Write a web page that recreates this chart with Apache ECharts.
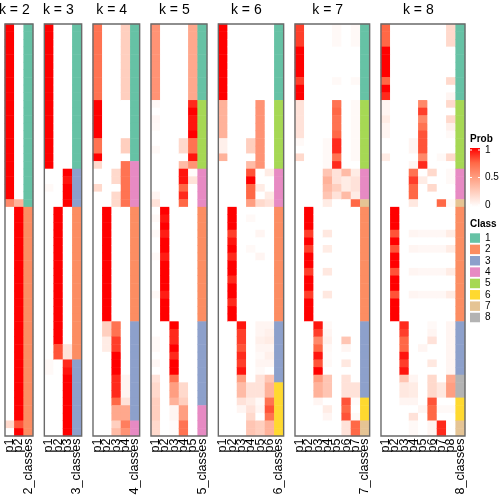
<!DOCTYPE html>
<html><head><meta charset="utf-8">
<script src="https://cdn.jsdelivr.net/npm/echarts@6/dist/echarts.min.js"></script>
<style>html,body{margin:0;padding:0;background:#fff}#c{width:504px;height:504px}</style>
</head><body><div id="c"></div>
<script>
// ---------- DATA ----------
const kValues = [2, 3, 4, 5, 6, 7, 8];
const classLabels = ['1','2','3','4','5','6','7','8'];
const classColors = ['#66C2A5','#FC8D62','#8DA0CB','#E78AC3','#A6D854','#FFD92F','#E5C494','#B3B3B3'];
const probTicks = [1, 0.5, 0];
const probTickLabels = ['1', '0.5', '0'];

const k2Prob = [
 [1,1,1,1,1,1,1,1,1,1, 1,1,1,1,1,1,1,1,1,1, 1,1,1,.6,0,0,0,0,0,0, 0,0,0,0,0,0,0,0,0,0, 0,0,0,0,0,0,0,0,0,0, 0,0,.2,0],
 [0,0,0,0,0,0,0,0,0,0, 0,0,0,0,0,0,0,0,0,0, 0,0,0,.4,1,1,1,1,1,1, 1,1,1,1,1,1,1,1,1,1, 1,1,1,1,1,1,1,1,1,1, 1,1,.8,1]
];
const k2Class = [1,1,1,1,1,1,1,1,1,1, 1,1,1,1,1,1,1,1,1,1, 1,1,1,1,2,2,2,2,2,2, 2,2,2,2,2,2,2,2,2,2, 2,2,2,2,2,2,2,2,2,2, 2,2,2,2];

const k3Prob = [
 [1,1,1,1,1,1,1,1,1,1, 1,1,1,1,1,1,1,1,1,0, 0,.03,0,0,0,0,0,0,0,0, 0,0,0,0,0,0,0,0,0,0, 0,0,0,0,.03,.03,0,0,0,0, 0,0,0,0],
 [0,0,0,0,0,0,0,0,0,0, 0,0,0,0,0,0,0,0,0,0, 0,0,0,0,1,1,1,1,1,1, 1,1,1,1,1,1,1,1,1,1, 1,1,.8,.8,0,0,0,0,0,0, 0,0,0,0],
 [0,0,0,0,0,0,0,0,0,0, 0,0,0,0,0,0,0,0,0,1, .95,1,1,1,0,0,0,0,0,0, 0,0,0,0,0,0,0,0,0,0, 0,0,.15,.15,.9,.95,1,1,1,1, 1,1,1,1]
];
const k3Class = [1,1,1,1,1,1,1,1,1,1, 1,1,1,1,1,1,1,1,1,3, 3,3,3,3,2,2,2,2,2,2, 2,2,2,2,2,2,2,2,2,2, 2,2,2,2,3,3,3,3,3,3, 3,3,3,3];

const k4Prob = [
 [.7,.7,.7,.7,.7,.7,.7,.7,.7,.7, 1,1,1,1,1,.7,.7,1,.2,0, 0,.2,0,0,0,0,0,0,0,0, 0,0,0,0,0,0,0,0,0,0, 0,0,0,0,0,0,0,0,0,0, 0,0,0,0],
 [0,0,0,0,0,0,0,0,0,0, 0,0,0,0,0,0,0,0,0,0, 0,0,0,0,1,1,1,1,1,1, 1,1,1,1,1,1,1,1,1,.25, .25,.1,.1,0,0,0,0,0,0,0, 0,0,0,0],
 [0,0,0,0,0,0,0,0,0,0, 0,0,0,0,0,0,0,0,0,.2, .2,0,.2,.2,0,0,0,0,0,0, 0,0,0,0,0,0,0,0,0,.7, .7,.85,.85,1,1,1,.9,.9,.9,.75, .45,.45,.25,.35],
 [.25,.25,.25,.25,.25,.25,.25,.25,.25,.25, 0,0,0,0,0,.25,.25,0,.7,.7, .7,.7,.7,.7,0,0,0,0,0,0, 0,0,0,0,0,0,0,0,0,0, 0,0,0,0,0,0,.05,.05,.05,.15, .45,.45,.65,.55]
];
const k4Class = [1,1,1,1,1,1,1,1,1,1, 1,1,1,1,1,1,1,1,4,4, 4,4,4,4,2,2,2,2,2,2, 2,2,2,2,2,2,2,2,2,3, 3,3,3,3,3,3,3,3,3,3, 3,3,4,4];

const k5Prob = [
 [.55,.55,.55,.55,.55,.55,.55,.55,.55,.55, .03,0,.04,.03,0,0,.03,0,0,0, 0,0,.05,.15,0,.03,0,.03,0,0, .03,0,0,0,0,.03,0,0,0,0, 0,.03,.03,0,.04,0,.15,.2,.2,.25, .25,.25,.2,.2],
 [0,0,0,0,0,0,0,0,0,0, 0,0,0,0,0,0,0,0,0,0, 0,0,0,0,1,.95,1,.93,1,1, .93,1,1,1,1,.93,1,1,1,0, 0,0,0,0,0,0,0,0,0,0, 0,0,0,0],
 [0,0,0,0,0,0,0,0,0,0, 0,0,0,0,0,0,0,0,0,0, 0,0,0,0,0,0,0,0,0,0, 0,0,0,0,0,0,0,0,0,1, .9,.9,1,.9,1,1,.7,.5,.5,.4, .05,.05,.02,.02],
 [0,0,0,0,0,0,0,0,0,0, 0,0,0,0,0,.2,.2,0,.35,.95, .95,.75,.9,.75,0,0,0,0,0,0, 0,0,0,0,0,0,0,0,0,0, 0,0,0,0,0,0,0,.2,.2,.25, .5,.5,.7,.7],
 [.45,.45,.45,.45,.45,.45,.45,.45,.45,.45, .9,1,.95,.95,1,.7,.7,.95,.55,.02, .15,0,0,0,0,0,0,0,0,0, 0,0,0,0,0,0,0,0,0,0, 0,0,0,0,0,0,0,0,0,0, 0,0,0,0]
];
const k5Class = [1,1,1,1,1,1,1,1,1,1, 5,5,5,5,5,5,5,5,5,4, 4,4,4,4,2,2,2,2,2,2, 2,2,2,2,2,2,2,2,2,3, 3,3,3,3,3,3,3,3,3,3, 4,4,4,4];

const k6Prob = [
 [1,1,1,1,1,1,1,1,1,1, .4,.4,.4,.4,.4,.08,.08,.4,0,0, 0,0,0,0,0,0,0,0,0,0, 0,0,0,0,0,0,0,0,0,0, 0,0,0,0,0,0,0,0,0,0, 0,0,0,0],
 [0,0,0,0,0,0,0,0,0,0, 0,0,0,0,0,0,0,0,0,0, 0,0,0,0,1,1,1,.85,.95,1, .9,1,1,.9,1,1,.9,1,1,0, 0,0,0,0,0,0,0,0,0,0, 0,0,0,0],
 [0,0,0,0,0,0,0,0,0,0, 0,0,0,0,0,0,0,0,0,0, 0,0,0,0,0,0,0,0,0,0, 0,0,0,0,0,0,0,0,0,.95, .85,.85,.8,.9,.85,.95,.5,.35,.35,.15, .05,0,0,0],
 [0,0,0,0,0,0,0,0,0,0, 0,0,0,0,0,.25,.25,0,.35,.8, 1,.75,.75,.5,0,.03,0,0,0,.03, 0,0,0,0,0,0,0,0,0,0, 0,0,0,0,0,0,0,.15,.15,.1, .15,.2,.3,.3],
 [0,0,0,0,0,0,0,0,0,0, .55,.55,.55,.55,.55,.55,.55,.55,.55,0, 0,.1,0,.2,0,0,0,.05,0,0, .05,0,0,0,0,0,0,0,0,.05, .05,.08,.05,.03,.05,.03,.15,.15,.15,.03, .05,0,.25,.25],
 [0,0,0,0,0,0,0,0,0,0, 0,0,0,0,0,0,0,0,0,.1, 0,0,.1,.15,0,0,0,0,0,0, 0,0,0,0,0,0,0,0,0,.05, .08,.1,.05,.08,.05,0,.3,.4,.4,.7, .8,.7,.4,.4]
];
const k6Class = [1,1,1,1,1,1,1,1,1,1, 5,5,5,5,5,5,5,5,5,4, 4,4,4,4,2,2,2,2,2,2, 2,2,2,2,2,2,2,2,2,3, 3,3,3,3,3,3,3,6,6,6, 6,6,6,6];

const k7Prob = [
 [.85,.85,.85,1,1,1,1,.85,1,1, .15,.15,.15,.15,.15,.03,0,.2,0,0, 0,0,0,0,0,0,0,0,0,0, 0,0,0,0,0,0,0,0,0,0, 0,0,0,0,0,0,0,0,0,0, 0,0,0,0],
 [0,0,0,0,0,0,0,0,0,0, 0,0,0,0,0,0,0,0,0,0, 0,0,0,0,1,1,1,.85,1,.85, 1,1,.85,1,1,.85,1,1,1,0, 0,0,0,0,0,0,0,0,0,0, 0,0,0,0],
 [0,0,0,0,0,0,0,0,0,0, 0,0,0,0,0,0,0,0,0,0, 0,0,0,0,0,0,0,0,0,0, 0,0,0,0,0,0,0,0,0,.95, .85,.6,.75,.95,.8,1,.5,.4,.4,.05, 0,0,0,0],
 [0,0,0,0,0,0,0,0,0,0, 0,0,0,0,0,.03,.03,.03,.03,.3, .4,.35,.3,.1,0,0,0,.12,0,.1, 0,0,.12,0,0,.12,0,0,0,.03, .05,.08,.03,.02,.03,0,.3,.3,.3,0, .1,.05,0,0],
 [.03,.03,.03,0,0,0,0,.03,0,0, .7,.75,.7,.7,.75,.9,.9,.7,.9,.15, .15,.25,.15,0,0,0,0,0,0,0, 0,0,0,0,0,0,0,0,0,0, 0,0,0,0,0,0,0,0,0,0, 0,0,0,0],
 [0,0,0,0,0,0,0,0,0,0, 0,0,0,0,0,0,0,0,0,.35, .1,.1,.35,0,0,0,0,0,0,0, 0,0,0,0,0,0,0,0,0,0, 0,.3,.05,0,.12,0,.15,.15,.15,.8, .75,.8,.15,.15],
 [.03,.03,.03,0,0,0,0,.03,0,0, .03,.03,.03,.03,.03,.03,.03,.03,0,.1, .15,.15,.1,.75,0,0,0,0,0,0, 0,0,0,0,0,0,0,0,0,0, 0,0,0,0,0,0,0,.15,.15,.02, 0,.03,.75,.75]
];
const k7Class = [1,1,1,1,1,1,1,1,1,1, 5,5,5,5,5,5,5,5,5,4, 4,4,4,7,2,2,2,2,2,2, 2,2,2,2,2,2,2,2,2,3, 3,3,3,3,3,3,3,3,3,6, 6,6,7,7];

const k8Prob = [
 [.75,.75,.75,1,1,1,1,.75,1,.9, .05,.05,.1,.05,.05,0,0,.1,0,0, 0,0,0,0,0,0,0,0,0,0, 0,0,0,0,0,0,0,0,0,0, 0,0,0,0,0,0,0,0,0,0, 0,0,0,0],
 [0,0,0,0,0,0,0,0,0,0, 0,0,0,0,0,0,0,0,0,0, 0,0,0,0,1,1,1,.8,1,.8, 1,1,.8,1,1,.8,1,1,1,0, 0,0,0,0,0,0,0,0,0,0, 0,0,0,0],
 [0,0,0,0,0,0,0,0,0,0, 0,0,0,0,0,0,0,0,0,0, 0,0,0,0,0,0,0,0,0,0, 0,0,0,0,0,0,0,0,0,.9, .85,.75,.75,.95,.85,.95,.3,.12,.12,.05, 0,0,0,0],
 [0,0,0,0,0,0,0,0,0,0, 0,0,0,0,0,.05,.05,0,.05,.7, .85,.75,.75,.12,0,0,0,.05,0,.05, 0,0,.05,0,0,.05,0,0,0,0, 0,0,0,0,0,0,.05,.1,.1,.05, 0,.15,.03,.03],
 [0,0,0,0,0,0,0,0,0,0, .6,.85,.6,.7,.8,.8,.8,.6,.9,0, .1,0,0,0,0,0,0,.04,0,.04, 0,0,.04,0,0,.04,0,0,0,0, 0,0,.05,0,0,0,0,0,0,0, .05,0,0,0],
 [0,0,0,0,0,0,0,0,0,0, 0,0,0,0,0,0,0,0,0,.2, 0,.2,0,0,0,0,0,.04,0,.04, 0,0,.04,0,0,.04,0,0,0,.03, .05,.15,0,0,.12,0,.2,.2,.2,.8, .75,.75,.05,.05],
 [0,0,0,0,0,0,0,0,0,0, 0,0,0,0,0,0,0,.03,0,0, 0,0,0,.75,0,0,0,.04,0,.04, 0,0,.04,0,0,.04,0,0,0,0, 0,0,0,0,0,0,0,.12,.12,0, .03,0,.9,.9],
 [.2,.2,.2,0,0,0,0,.2,0,.05, .2,0,.2,.08,.03,0,0,.2,0,.03, .03,0,0,.03,0,0,0,.1,0,.1, 0,0,.1,0,0,.1,0,0,0,.05, .05,.05,.05,.05,.05,.05,.45,.5,.5,0, .03,0,0,0]
];
const k8Class = [1,1,1,1,1,1,1,1,1,1, 5,5,5,5,5,5,5,5,5,4, 4,4,4,7,2,2,2,2,2,2, 2,2,2,2,2,2,2,2,2,3, 3,3,3,3,3,3,8,8,8,6, 6,6,7,7];

const probByK = {2:k2Prob, 3:k3Prob, 4:k4Prob, 5:k5Prob, 6:k6Prob, 7:k7Prob, 8:k8Prob};
const classByK = {2:k2Class, 3:k3Class, 4:k4Class, 5:k5Class, 6:k6Class, 7:k7Class, 8:k8Class};
const rowIds = k2Class.map((_, i) => String(i));

// ---------- LAYOUT ----------
const FONT = 'Liberation Sans, Arial, sans-serif';
const TOP = 24, H = 412, COLW = 9.333, GAP = 11.333, LEFT0 = 5;
const LEG_X = 470;

const chart = echarts.init(document.getElementById('c'), null, {renderer: 'canvas'});
const grid = [], xAxis = [], yAxis = [], series = [], graphic = [];
const probIdx = [], classIdx = [];
let left = LEFT0;
kValues.forEach((k, gi) => {
  const w = COLW * (k + 1);
  grid.push({left: left, top: TOP, width: w, height: H, show: false, containLabel: false});
  const cats = [];
  for (let j = 1; j <= k; j++) cats.push('p' + j);
  cats.push(k + '_classes');
  xAxis.push({type: 'category', gridIndex: gi, data: cats, position: 'bottom',
    axisLine: {show: false}, axisTick: {show: false}, splitLine: {show: false},
    axisLabel: {rotate: 90, interval: 0, fontSize: 12.6, color: '#000', margin: 2.5, fontFamily: FONT}});
  yAxis.push({type: 'category', gridIndex: gi, data: rowIds, inverse: true, show: false});
  const pd = [];
  probByK[k].forEach((col, j) => col.forEach((v, r) => pd.push([j, r, v])));
  probIdx.push(series.length);
  series.push({type: 'heatmap', xAxisIndex: gi, yAxisIndex: gi, data: pd, silent: true, emphasis: {disabled: true}, progressive: 0});
  const cd = classByK[k].map((c, r) => [k, r, c]);
  classIdx.push(series.length);
  series.push({type: 'heatmap', xAxisIndex: gi, yAxisIndex: gi, data: cd, silent: true, emphasis: {disabled: true}, progressive: 0});
  graphic.push({type: 'rect', shape: {x: left, y: TOP, width: w, height: H}, style: {fill: null, stroke: '#6a6a6a', lineWidth: 1.4}, z: 100, silent: true});
  graphic.push({type: 'text', x: left + COLW * k / 2, y: 10.5, style: {text: 'k = ' + k, font: '14px ' + FONT, textAlign: 'center', textVerticalAlign: 'middle', fill: '#000'}, z: 100});
  left += w + GAP;
});

// Prob legend
const BAR_TOP = 148, BAR_H = 59, BAR_W = 10;
graphic.push({type: 'text', x: LEG_X, y: 139, style: {text: 'Prob', font: 'bold 10px ' + FONT, textAlign: 'left', textVerticalAlign: 'middle', fill: '#000'}});
graphic.push({type: 'rect', shape: {x: LEG_X, y: BAR_TOP, width: BAR_W, height: BAR_H},
  style: {fill: new echarts.graphic.LinearGradient(0, 0, 0, 1, [
    {offset: 0, color: '#FF0000'}, {offset: .25, color: '#FF6846'}, {offset: .5, color: '#FF9E81'},
    {offset: .75, color: '#FFCFBF'}, {offset: 1, color: '#FFFFFF'}])}});
probTicks.forEach((t, i) => {
  const y = BAR_TOP + 2 + (1 - t) * (BAR_H - 4);
  graphic.push({type: 'line', shape: {x1: LEG_X, y1: y, x2: LEG_X + 2, y2: y}, style: {stroke: '#fff', lineWidth: 1}, z: 10});
  graphic.push({type: 'line', shape: {x1: LEG_X + BAR_W - 2, y1: y, x2: LEG_X + BAR_W, y2: y}, style: {stroke: '#fff', lineWidth: 1}, z: 10});
  graphic.push({type: 'text', x: LEG_X + 15, y: y, style: {text: probTickLabels[i], font: '10px ' + FONT, textAlign: 'left', textVerticalAlign: 'middle', fill: '#000'}});
});

// Class legend
graphic.push({type: 'text', x: LEG_X, y: 224.5, style: {text: 'Class', font: 'bold 10px ' + FONT, textAlign: 'left', textVerticalAlign: 'middle', fill: '#000'}});
classLabels.forEach((lab, i) => {
  const y = 233.3 + i * 11.35;
  graphic.push({type: 'rect', shape: {x: LEG_X, y: y, width: 10, height: 9.5}, style: {fill: classColors[i]}});
  graphic.push({type: 'text', x: LEG_X + 15, y: y + 4.75, style: {text: lab, font: '10px ' + FONT, textAlign: 'left', textVerticalAlign: 'middle', fill: '#000'}});
});

chart.setOption({
  animation: false,
  backgroundColor: '#fff',
  textStyle: {fontFamily: FONT},
  grid, xAxis, yAxis, series, graphic,
  visualMap: [
    {type: 'continuous', min: 0, max: 1, seriesIndex: probIdx, show: false, dimension: 2,
     inRange: {color: ['#FFFFFF', '#FFCFBF', '#FF9E81', '#FF6846', '#FF0000']}},
    {type: 'piecewise', seriesIndex: classIdx, show: false, dimension: 2,
     pieces: classColors.map((c, i) => ({value: i + 1, color: c}))}
  ]
});
</script></body></html>
